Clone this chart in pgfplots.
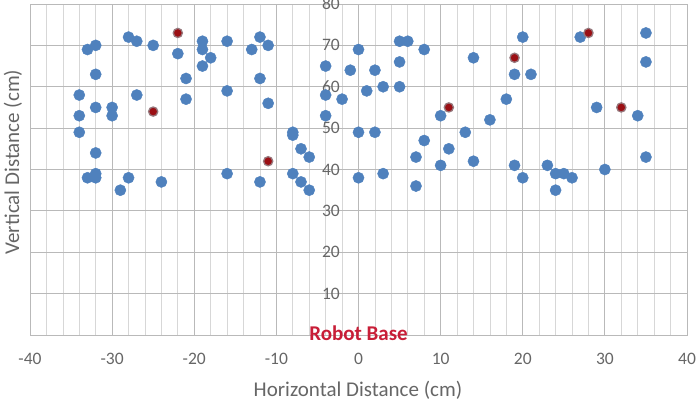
\documentclass[border=0pt]{standalone}
\usepackage{pgfplots}
\pgfplotsset{compat=1.18}
\usepackage{fontspec}
\setmainfont{Carlito}
\definecolor{ptblue}{RGB}{79,129,189}
\definecolor{ptred}{RGB}{155,15,20}
\definecolor{halo}{RGB}{150,120,125}
\definecolor{txtgray}{RGB}{102,102,102}
\definecolor{majgrid}{RGB}{185,185,185}
\definecolor{mingrid}{RGB}{215,215,215}
\definecolor{robotred}{RGB}{200,30,55}
\begin{document}
\begin{tikzpicture}
\useasboundingbox (0,0) rectangle (700bp,404bp);
\begin{axis}[
  at={(30bp,69bp)}, anchor=south west,
  scale only axis, width=657bp, height=331bp,
  xmin=-40, xmax=40, ymin=0, ymax=80,
  clip=false,
  xtick={-40,-30,...,40}, ytick={10,20,...,80},
  minor x tick num=4,
  major tick length=0pt, minor tick length=0pt,
  xmajorgrids, xminorgrids, ymajorgrids,
  major grid style={majgrid, line width=0.9bp},
  minor grid style={mingrid, line width=0.7bp},
  axis line style={majgrid, line width=0.9bp},
  /pgf/number format/assume math mode=true,
  ticklabel style={font=\fontsize{17.5bp}{20bp}\selectfont, text=txtgray},
  xticklabel style={anchor=center, inner sep=0pt, yshift=-24bp},
  yticklabel style={anchor=east, inner sep=0pt, xshift=310bp},
  every axis x label/.style={at={(axis description cs:0.4992,-0.166)}, anchor=center},
  every axis y label/.style={at={(axis description cs:-0.0259,0.5227)}, rotate=90, anchor=center},
  label style={font=\fontsize{21bp}{24bp}\selectfont, text=txtgray},
  xlabel={Horizontal Distance (cm)},
  ylabel={Vertical Distance (cm)},
]
\addplot[only marks, mark=*, mark size=5.6bp, mark options={draw=ptblue, fill=ptblue}] coordinates {
(-34,58) (-34,53) (-34,49) (-33,69) (-32,70) (-32,63) (-32,55) (-32,44)
(-33,38) (-32,39) (-32,38) (-30,55) (-30,53) (-29,35) (-28,38) (-28,72)
(-27,71) (-27,58) (-25,70) (-24,37) (-22,68) (-21,62) (-21,57) (-19,71)
(-19,69) (-19,65) (-18,67) (-16,71) (-16,59) (-16,39) (-13,69) (-12,72)
(-11,70) (-12,62) (-11,56) (-12,37) (-8,49) (-8,48.3) (-8,39) (-7,45)
(-7,37) (-6,43) (-6,35) (-4,65) (-4,58) (-4,53) (-2,57) (-1,64)
(0,69) (0,49) (0,38) (1,59) (2,64) (2,49) (3,60) (3,39)
(5,71) (6,71) (5,66) (5,60) (8,69) (8,47) (7,43) (7,36)
(10,53) (10,41) (11,45) (13,49) (14,67) (14,42) (16,52) (18,57)
(19,63) (19,41) (20,72) (20,38) (21,63) (23,41) (24,39) (24,35)
(25,39) (26,38) (27,72) (29,55) (30,40) (34,53) (35,73) (35,66) (35,43)
};
\addplot[only marks, mark=*, mark size=4.6bp, mark options={draw=halo, line width=1.3bp, fill=ptred}] coordinates {
(-25,54) (-22,73) (-11,42) (11,55) (19,67) (28,73) (32,55)
};
\node[text=robotred, font=\bfseries\fontsize{21bp}{24bp}\selectfont, anchor=center, yshift=2bp] at (axis cs:0,0) {Robot Base};
\end{axis}
\end{tikzpicture}
\end{document}
